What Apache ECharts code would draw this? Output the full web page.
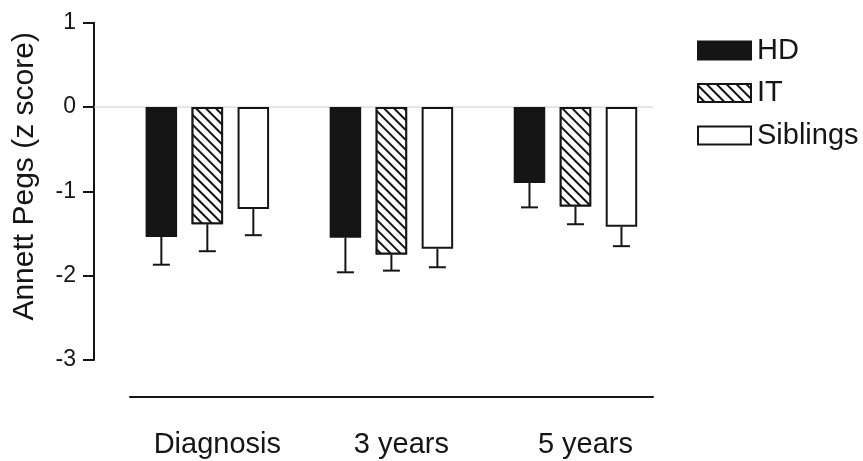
<!DOCTYPE html>
<html>
<head>
<meta charset="utf-8">
<title>Annett Pegs</title>
<script src="https://cdn.jsdelivr.net/npm/echarts@6/dist/echarts.min.js"></script>
<style>
  html, body { margin: 0; padding: 0; background: #fff; }
  #chart { width: 863px; height: 461px; }
</style>
</head>
<body>
<div id="chart"></div>
<script>
// Time points
var categories = ['Diagnosis', '3 years', '5 years'];

// Group means (z score) and one-sided error (SE) per time point
var hdMean  = [-1.54, -1.55, -0.90];
var hdErr   = [0.33, 0.41, 0.29];
var itMean  = [-1.39, -1.75, -1.18];
var itErr   = [0.32, 0.19, 0.21];
var sibMean = [-1.21, -1.68, -1.42];
var sibErr  = [0.31, 0.22, 0.23];

// Y axis range and ticks
var yMin = -3, yMax = 1, yStep = 1;
var referenceLevel = 0;

var FONT = '"Liberation Sans", Arial, Helvetica, sans-serif';
var INK = '#151515';
var BAR_W = 31.5;
var BAR_GAP = 0.46;               // fraction of bar width
var STEP = BAR_W * (1 + BAR_GAP); // centre-to-centre distance inside a group

// back-slash hatching for the IT group
var hatch = {
  symbol: 'rect',
  symbolSize: 1,
  dashArrayX: [1, 0],
  dashArrayY: [1.4, 5],
  rotation: Math.PI / 4,
  color: INK,
  backgroundColor: '#fff'
};

function barSeries(name, values, style) {
  return {
    name: name,
    type: 'bar',
    xAxisIndex: 0,
    yAxisIndex: 0,
    barWidth: BAR_W,
    barGap: (BAR_GAP * 100) + '%',
    data: values,
    itemStyle: style,
    emphasis: { disabled: true },
    silent: true
  };
}

function errSeries(name, means, errs, slot) {
  return {
    name: name,
    type: 'custom',
    xAxisIndex: 0,
    yAxisIndex: 0,
    silent: true,
    z: 3,
    data: means.map(function (m, i) { return [i, m, errs[i]]; }),
    encode: { x: 0, y: 1 },
    renderItem: function (params, api) {
      var c = api.value(0), m = api.value(1), e = api.value(2);
      var p0 = api.coord([c, m]);
      var p1 = api.coord([c, m - e]);
      var x = p0[0] + (slot - 1) * STEP;
      var half = 8.5;
      var st = { stroke: INK, lineWidth: 2 };
      return {
        type: 'group',
        children: [
          { type: 'line', shape: { x1: x, y1: p0[1], x2: x, y2: p1[1] }, style: st },
          { type: 'line', shape: { x1: x - half, y1: p1[1], x2: x + half, y2: p1[1] }, style: st }
        ]
      };
    }
  };
}

var chart = echarts.init(document.getElementById('chart'), null, { renderer: 'canvas' });

chart.setOption({
  animation: false,
  backgroundColor: '#fff',
  textStyle: { fontFamily: FONT },
  legend: {
    orient: 'vertical',
    left: 692,
    top: 31,
    itemWidth: 53,
    itemHeight: 18,
    itemGap: 13.5,
    icon: 'rect',
    data: ['HD', 'IT', 'Siblings'],
    selectedMode: false,
    textStyle: { fontFamily: FONT, fontSize: 29, color: INK, padding: [0, 0, 0, 1] }
  },
  grid: [
    // bars
    { left: 115.3, right: 195.5, top: 22.7, bottom: 101 },
    // reference level at zero
    { left: 94, right: 210, top: 22.7, bottom: 101 },
    // baseline under the plot
    { left: 130, right: 210, top: 300, bottom: 64 }
  ],
  xAxis: [
    {
      gridIndex: 0,
      type: 'category',
      data: categories,
      axisLine: { show: false },
      axisTick: { show: false },
      axisLabel: {
        fontFamily: FONT, fontSize: 29, color: INK,
        margin: 70, padding: [0, 0, 0, 20]
      }
    },
    { gridIndex: 1, type: 'value', min: 0, max: 1, show: false },
    {
      gridIndex: 2, type: 'value', min: 0, max: 1,
      axisLine: { show: true, lineStyle: { color: INK, width: 2 } },
      axisTick: { show: false }, axisLabel: { show: false }, splitLine: { show: false }
    }
  ],
  yAxis: [
    {
      gridIndex: 0,
      type: 'value',
      min: yMin, max: yMax, interval: yStep,
      offset: 21.3,
      name: 'Annett Pegs (z score)',
      nameLocation: 'middle',
      nameRotate: 90,
      nameGap: 54,
      nameTextStyle: { fontFamily: FONT, fontSize: 30, color: INK, padding: [0, 0, 0, 30] },
      axisLine: { show: true, lineStyle: { color: INK, width: 2 } },
      axisTick: { show: true, length: 11, lineStyle: { color: INK, width: 2 } },
      axisLabel: { fontFamily: FONT, fontSize: 23, color: INK, margin: 18 },
      splitLine: { show: false }
    },
    { gridIndex: 1, type: 'value', min: yMin, max: yMax, show: false },
    { gridIndex: 2, type: 'value', min: 0, max: 1, show: false }
  ],
  series: [
    {
      name: 'zero',
      type: 'line',
      xAxisIndex: 1,
      yAxisIndex: 1,
      data: [[0, referenceLevel], [1, referenceLevel]],
      symbol: 'none',
      silent: true,
      z: 1,
      lineStyle: { color: '#cfcfcf', width: 1 }
    },
    barSeries('HD', hdMean, { color: INK, borderColor: INK, borderWidth: 2 }),
    barSeries('IT', itMean, { color: '#fff', borderColor: INK, borderWidth: 2, decal: hatch }),
    barSeries('Siblings', sibMean, { color: '#fff', borderColor: INK, borderWidth: 2 }),
    errSeries('HD error', hdMean, hdErr, 0),
    errSeries('IT error', itMean, itErr, 1),
    errSeries('Siblings error', sibMean, sibErr, 2)
  ]
});
</script>
</body>
</html>
